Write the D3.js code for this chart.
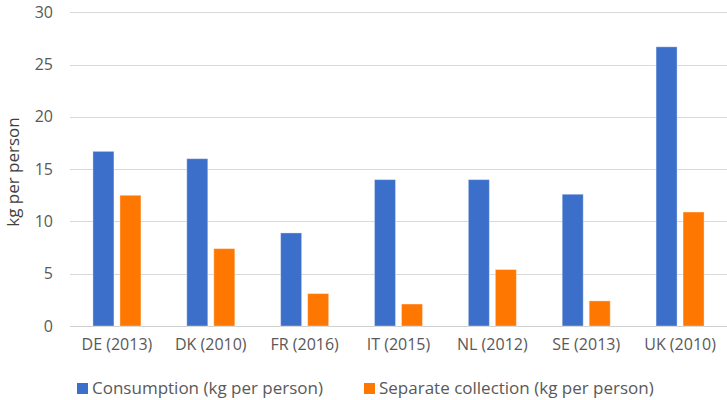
<!DOCTYPE html>
<html>
<head>
<meta charset="utf-8">
<script src="https://cdn.jsdelivr.net/npm/d3@7"></script>
<style>
  html, body { margin: 0; padding: 0; background: #fff; }
  svg { display: block; font-family: "Open Sans", "Noto Sans", sans-serif; }
</style>
</head>
<body>
<svg id="chart" width="727" height="400"></svg>
<script>
// Category labels (country and reference year)
const categories = ["DE (2013)", "DK (2010)", "FR (2016)", "IT (2015)", "NL (2012)", "SE (2013)", "UK (2010)"];
// Series values, kg per person
const consumption = [16.7, 16.0, 8.9, 14.0, 14.0, 12.6, 26.7];
const separateCollection = [12.5, 7.4, 3.1, 2.1, 5.4, 2.4, 10.9];
const seriesNames = ["Consumption (kg per person)", "Separate collection (kg per person)"];
const yTicks = [0, 5, 10, 15, 20, 25, 30];

const colors = ["#3b6fca", "#fe7700"];
const textColor = "#595959";

const svg = d3.select("#chart");
const margin = { left: 70, right: 0 };
const width = 727;

const x = d3.scaleBand().domain(categories).range([margin.left, width - margin.right]).paddingInner(0).paddingOuter(0);
const y = d3.scaleLinear().domain([0, 30]).range([326, 12.3]);

// Gridlines
svg.append("g")
  .selectAll("line")
  .data(yTicks)
  .join("line")
  .attr("x1", margin.left)
  .attr("x2", width - margin.right)
  .attr("y1", d => Math.round(y(d)) + 0.5)
  .attr("y2", d => Math.round(y(d)) + 0.5)
  .attr("stroke", d => d === 0 ? "#d0d0d0" : "#d9d9d9")
  .attr("stroke-width", 1.2);

// Y axis labels
const yAxis = d3.axisLeft(y).tickValues(yTicks).tickSize(0).tickPadding(0);
const gy = svg.append("g").attr("transform", "translate(53,0)").call(yAxis);
gy.select(".domain").remove();
gy.selectAll("text")
  .attr("fill", textColor)
  .attr("font-size", 16)
  .attr("font-family", "Open Sans, sans-serif");

// Y axis title
svg.append("text")
  .attr("transform", "translate(19,172) rotate(-90)")
  .attr("text-anchor", "middle")
  .attr("fill", "#404040")
  .attr("font-size", 17)
  .text("kg per person");

// X axis labels
const xAxis = d3.axisBottom(x).tickSize(0).tickPadding(0);
const gx = svg.append("g").attr("transform", "translate(0,339)").call(xAxis);
gx.select(".domain").remove();
gx.selectAll("text")
  .attr("fill", textColor)
  .attr("font-size", 16)
  .attr("font-family", "Open Sans, sans-serif");

// Bars: two series inside each category band
const barW = 21, gap = 6;
const sub = d3.scaleOrdinal().domain([0, 1]).range([-(barW + gap / 2), gap / 2]);
const series = [consumption, separateCollection];

series.forEach((vals, si) => {
  svg.append("g")
    .selectAll("rect")
    .data(vals.map((v, i) => ({ cat: categories[i], v })))
    .join("rect")
    .attr("x", d => x(d.cat) + x.bandwidth() / 2 + sub(si))
    .attr("y", d => y(d.v))
    .attr("width", barW)
    .attr("height", d => y(0) - y(d.v))
    .attr("fill", colors[si])
    .attr("stroke", "#ffffff")
    .attr("stroke-opacity", 0.35)
    .attr("stroke-width", 1);
});

// Legend
const legendItems = [
  { name: seriesNames[0], color: colors[0], x: 77 },
  { name: seriesNames[1], color: colors[1], x: 364 }
];
const lg = svg.append("g");
legendItems.forEach(it => {
  lg.append("rect")
    .attr("x", it.x).attr("y", 383)
    .attr("width", 11).attr("height", 11)
    .attr("fill", it.color);
  lg.append("text")
    .attr("x", it.x + 15).attr("y", 394)
    .attr("fill", textColor)
    .attr("font-size", 17)
    .text(it.name);
});
</script>
</body>
</html>
